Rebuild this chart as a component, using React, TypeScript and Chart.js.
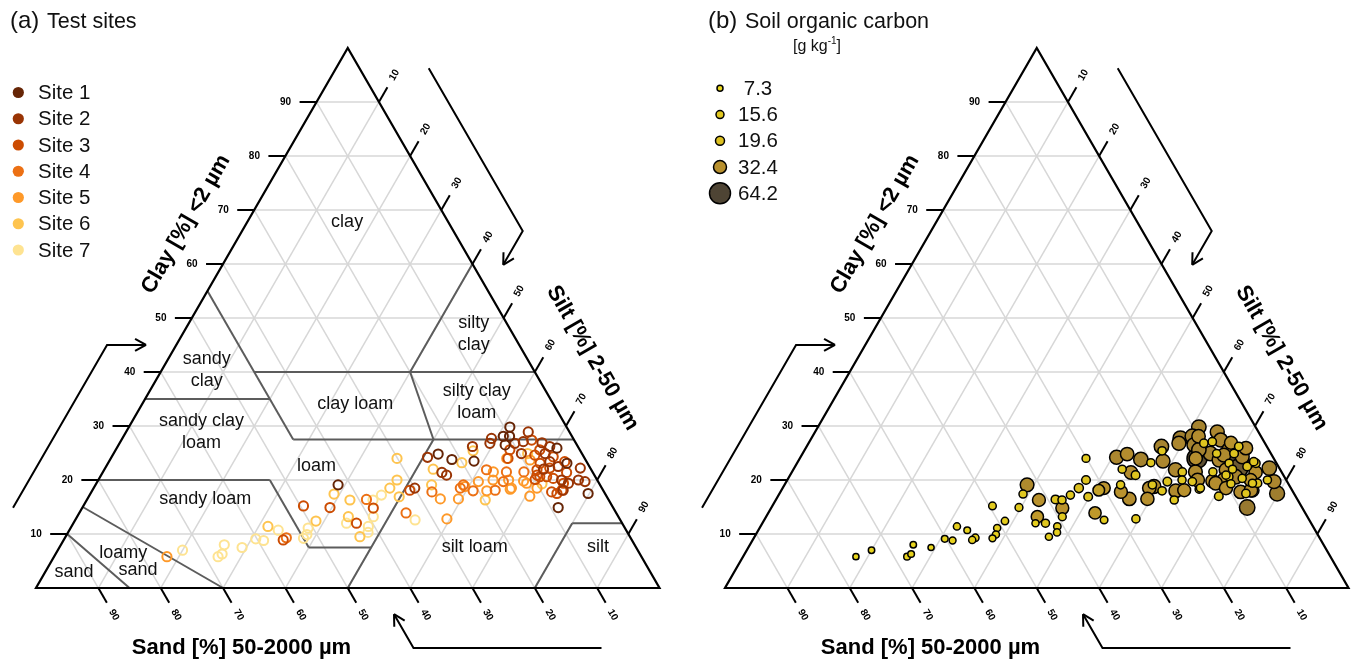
import React, { useEffect, useRef } from "react";
import { Chart, registerables } from "chart.js";

Chart.register(...registerables);

const FONT = "'Liberation Sans', Arial, Helvetica, sans-serif";

// ---------------- data ----------------
const SITE_LABELS = ["Site 1", "Site 2", "Site 3", "Site 4", "Site 5", "Site 6", "Site 7"];
const SITE_COLORS = ["#662506", "#993404", "#cc4c02", "#ec7014", "#fe9929", "#fec44f", "#fee391"];

// clay [%] (<2 µm) of every sample
const CLAY = [
  5.8, 7.0, 5.8, 6.3, 8.0, 7.5, 9.1, 8.8, 11.4, 10.7, 8.9, 9.3, 9.2, 11.1, 9.9, 12.4,
  15.2, 14.9, 19.1, 17.4, 16.3, 13.2, 12.0, 12.0, 9.5, 16.4, 14.8, 13.2, 11.4, 10.3, 18.5, 17.2,
  20.0, 24.0, 16.9, 13.9, 18.1, 18.5, 12.6, 24.2, 24.8, 22.0, 21.4, 20.9, 23.8, 23.2, 23.5, 26.2,
  25.4, 19.1, 17.8, 16.5, 12.8, 18.5, 18.8, 18.0, 16.5, 19.7, 16.3, 18.0, 18.1, 20.0, 21.9, 19.7,
  21.5, 18.3, 24.0, 19.8, 21.5, 17.0, 23.7, 24.9, 24.9, 24.6, 24.9, 24.3, 23.1, 23.4, 23.1, 21.9,
  22.0, 22.2, 22.5, 21.4, 22.2, 20.0, 19.7, 20.6, 20.1, 20.3, 20.0, 19.4, 19.3, 17.8, 17.5, 18.1,
  17.5, 14.9, 29.8, 28.9, 28.1, 28.1, 27.7, 27.1, 27.4, 26.9, 26.2, 25.9, 26.8, 26.5, 26.8, 24.0,
  25.6, 21.5, 19.4, 20.9, 20.6, 23.4, 18.1, 19.4, 18.5, 19.1, 20.0, 18.5, 25.6, 16.3,
];
// silt [%] (2-50 µm) of every sample
const SILT = [
  18.1, 20.0, 26.3, 26.7, 26.2, 29.3, 30.7, 32.1, 31.5, 33.5, 35.2, 35.5, 38.3, 38.1, 38.5, 38.7,
  35.3, 39.7, 38.9, 39.1, 42.2, 43.5, 43.8, 45.4, 47.2, 44.8, 46.7, 47.5, 47.6, 48.1, 47.5, 46.8,
  47.9, 45.9, 49.8, 52.4, 50.9, 51.5, 54.5, 50.7, 52.1, 52.7, 54.4, 55.4, 54.8, 56.7, 58.5, 56.9,
  57.4, 53.9, 54.6, 56.6, 59.5, 58.8, 59.4, 61.1, 59.5, 61.1, 63.9, 63.3, 64.6, 63.3, 61.3, 65.1,
  64.7, 66.9, 63.7, 68.3, 67.5, 70.7, 67.4, 65.4, 66.4, 67.7, 69.2, 70.8, 69.3, 70.7, 73.6, 69.4,
  70.4, 71.3, 72.5, 74.4, 76.2, 77.0, 78.2, 70.5, 70.0, 72.8, 74.3, 75.7, 71.5, 73.8, 74.8, 75.5,
  79.8, 76.3, 61.1, 64.5, 60.9, 61.9, 59.2, 64.6, 65.8, 67.7, 69.3, 70.6, 59.4, 62.0, 63.4, 63.5,
  68.0, 62.6, 69.0, 69.9, 71.6, 73.1, 75.3, 74.9, 71.1, 59.0, 65.8, 67.0, 63.2, 45.9,
];
// test site (1-7) of every sample
const SITE = [
  5, 7, 7, 7, 7, 7, 7, 7, 6, 7, 3, 4, 7, 7, 7, 6,
  3, 3, 1, 6, 6, 6, 7, 3, 6, 4, 3, 7, 7, 7, 6, 7,
  6, 6, 6, 4, 3, 2, 7, 2, 1, 6, 2, 2, 1, 6, 1, 2,
  6, 6, 4, 5, 5, 4, 5, 4, 5, 5, 6, 5, 4, 5, 4, 4,
  4, 5, 3, 5, 4, 5, 5, 2, 6, 3, 2, 3, 3, 2, 1, 3,
  2, 3, 2, 3, 2, 2, 2, 3, 3, 3, 2, 2, 6, 3, 3, 2,
  1, 1, 1, 2, 1, 1, 2, 2, 3, 2, 2, 1, 2, 1, 2, 5,
  3, 5, 5, 3, 3, 3, 3, 3, 5, 4, 5, 5, 3, 7,
];
// soil organic carbon [g kg-1] of every sample
const SOC = [
  8, 9, 10, 10, 9, 8, 10, 11, 12, 10, 12, 13, 11, 12, 12, 13,
  14, 15, 35, 16, 32, 30, 12, 16, 12, 18, 32, 15, 13, 12, 20, 16,
  18, 15, 18, 30, 28, 32, 14, 36, 34, 16, 34, 18, 38, 16, 36, 38,
  17, 16, 32, 34, 16, 34, 36, 17, 33, 18, 16, 35, 32, 16, 36, 17,
  35, 16, 60, 34, 16, 18, 36, 38, 16, 35, 18, 36, 16, 64, 17, 34,
  16, 55, 18, 33, 38, 16, 36, 17, 34, 16, 32, 18, 16, 34, 17, 35,
  40, 42, 38, 36, 38, 34, 40, 17, 36, 32, 17, 34, 36, 38, 17, 33,
  36, 17, 34, 16, 38, 17, 34, 16, 33, 17, 35, 16, 38, 16,
];
const SOC_LEGEND = [7.3, 15.6, 19.6, 32.4, 64.2];
const AXIS_TICKS = [10, 20, 30, 40, 50, 60, 70, 80, 90];

// USDA texture-class boundaries: [clay1, silt1, clay2, silt2]
const CLASS_LINES: number[][] = [
  [55, 0, 27.5, 27.5],
  [35, 0, 35, 20],
  [40, 15, 40, 60],
  [60, 40, 40, 40],
  [40, 40, 27.5, 50],
  [27.5, 27.5, 27.5, 72.5],
  [20, 0, 20, 27.5],
  [20, 27.5, 7.5, 40],
  [7.5, 40, 7.5, 50],
  [27.5, 50, 0, 50],
  [0, 80, 12, 80],
  [12, 80, 12, 88],
  [15, 0, 0, 30],
  [10, 0, 0, 15],
];
const CLASS_NAMES: { text: string[]; clay: number; silt: number }[] = [
  { text: ["clay"], clay: 67.8, silt: 16.0 },
  { text: ["silty", "clay"], clay: 47.0, silt: 46.7 },
  { text: ["sandy", "clay"], clay: 40.4, silt: 7.2 },
  { text: ["clay loam"], clay: 34.0, silt: 34.2 },
  { text: ["silty clay", "loam"], clay: 34.4, silt: 53.5 },
  { text: ["sandy clay", "loam"], clay: 28.9, silt: 12.1 },
  { text: ["loam"], clay: 22.6, silt: 33.7 },
  { text: ["sandy loam"], clay: 16.5, silt: 18.9 },
  { text: ["silt loam"], clay: 7.5, silt: 66.6 },
  { text: ["silt"], clay: 7.5, silt: 86.4 },
  { text: ["loamy"], clay: 6.4, silt: 10.8 },
  { text: ["sand"], clay: 3.3, silt: 14.7 },
  { text: ["sand"], clay: 3.0, silt: 4.6 },
];

// ---------------- styling helpers ----------------
const W = 678;
const H = 665;
const Y_RANGE = [-14.259, 108.889];
const X_RANGE_A = [-5.774, 102.967];
const X_RANGE_B = [-7.538, 101.203];

const SOC_COLOR_STOPS: [number, number[]][] = [
  [7.3, [234, 215, 28]],
  [19.6, [220, 192, 32]],
  [32.4, [184, 144, 46]],
  [64.2, [78, 68, 52]],
];
const SOC_RADIUS_STOPS: [number, number][] = [
  [7.3, 3],
  [15.6, 4],
  [19.6, 4.5],
  [32.4, 6.5],
  [64.2, 10.5],
];
function interp(v: number, stops: [number, any][]) {
  if (v <= stops[0][0]) return stops[0][1];
  for (let i = 1; i < stops.length; i++) {
    if (v <= stops[i][0]) {
      const t = (v - stops[i - 1][0]) / (stops[i][0] - stops[i - 1][0]);
      const a = stops[i - 1][1];
      const b = stops[i][1];
      if (Array.isArray(a)) return a.map((x: number, k: number) => x + (b[k] - x) * t);
      return a + (b - a) * t;
    }
  }
  return stops[stops.length - 1][1];
}
function socColor(v: number) {
  const c = interp(v, SOC_COLOR_STOPS) as number[];
  return `rgb(${Math.round(c[0])},${Math.round(c[1])},${Math.round(c[2])})`;
}
function socRadius(v: number) {
  return interp(v, SOC_RADIUS_STOPS) as number;
}

const font = (size: number, bold = false) => `${bold ? "bold " : ""}${size}px ${FONT}`;

type Pt = { x: number; y: number };
function tern(chart: any, clay: number, silt: number): Pt {
  return {
    x: chart.scales.x.getPixelForValue(silt + clay / 2),
    y: chart.scales.y.getPixelForValue(clay),
  };
}
function seg(ctx: CanvasRenderingContext2D, p: Pt, q: Pt) {
  ctx.beginPath();
  ctx.moveTo(p.x, p.y);
  ctx.lineTo(q.x, q.y);
  ctx.stroke();
}
const add = (p: Pt, d: Pt, k: number): Pt => ({ x: p.x + d.x * k, y: p.y + d.y * k });

function arrowPath(ctx: CanvasRenderingContext2D, pts: Pt[]) {
  ctx.beginPath();
  ctx.moveTo(pts[0].x, pts[0].y);
  for (let i = 1; i < pts.length; i++) ctx.lineTo(pts[i].x, pts[i].y);
  ctx.stroke();
  const t = pts[pts.length - 1];
  const s = pts[pts.length - 2];
  const ang = Math.atan2(t.y - s.y, t.x - s.x);
  for (const sg of [-1, 1]) {
    const a = ang + Math.PI + sg * 0.5;
    seg(ctx, t, { x: t.x + 12.5 * Math.cos(a), y: t.y + 12.5 * Math.sin(a) });
  }
}

function rotatedText(ctx: CanvasRenderingContext2D, text: string, p: Pt, rot: number) {
  ctx.save();
  ctx.translate(p.x, p.y);
  ctx.rotate(rot);
  ctx.fillText(text, 0, 0);
  ctx.restore();
}

function drawFrame(chart: any, withClasses: boolean) {
  const ctx: CanvasRenderingContext2D = chart.ctx;
  ctx.save();
  ctx.lineCap = "butt";
  // grid
  ctx.strokeStyle = "#d7d7d7";
  ctx.lineWidth = 1.5;
  for (const v of AXIS_TICKS) {
    seg(ctx, tern(chart, v, 0), tern(chart, v, 100 - v));
    seg(ctx, tern(chart, 0, v), tern(chart, 100 - v, v));
    seg(ctx, tern(chart, 0, 100 - v), tern(chart, 100 - v, 0));
  }
  // texture classes
  if (withClasses) {
    ctx.strokeStyle = "#5c5c5c";
    ctx.lineWidth = 2;
    for (const l of CLASS_LINES) seg(ctx, tern(chart, l[0], l[1]), tern(chart, l[2], l[3]));
    ctx.fillStyle = "#111";
    ctx.font = font(18);
    ctx.textAlign = "center";
    ctx.textBaseline = "middle";
    for (const c of CLASS_NAMES) {
      const p = tern(chart, c.clay, c.silt);
      const n = c.text.length;
      c.text.forEach((t, i) => ctx.fillText(t, p.x, p.y + (i - (n - 1) / 2) * 22));
    }
  }
  // triangle
  const A = tern(chart, 0, 0);
  const B = tern(chart, 0, 100);
  const C = tern(chart, 100, 0);
  ctx.strokeStyle = "#000";
  ctx.lineWidth = 2.2;
  ctx.lineJoin = "miter";
  ctx.beginPath();
  ctx.moveTo(A.x, A.y);
  ctx.lineTo(B.x, B.y);
  ctx.lineTo(C.x, C.y);
  ctx.closePath();
  ctx.stroke();

  const L = B.x - A.x;
  const u = { x: (C.x - A.x) / L, y: (C.y - A.y) / L };
  const v = { x: (B.x - C.x) / L, y: (B.y - C.y) / L };
  const w = { x: (A.x - B.x) / L, y: (A.y - B.y) / L };
  const nu = { x: u.y, y: -u.x };
  const nv = { x: v.y, y: -v.x };
  const nw = { x: w.y, y: -w.x };
  const left = { x: -1, y: 0 };

  // ticks + labels
  ctx.lineWidth = 2;
  ctx.fillStyle = "#000";
  ctx.font = font(10, true);
  ctx.textAlign = "center";
  ctx.textBaseline = "middle";
  for (const t of AXIS_TICKS) {
    const pc = tern(chart, t, 0);
    seg(ctx, pc, add(pc, left, 17));
    ctx.fillText(String(t), pc.x - 31, pc.y + 0.5);
    const ps = tern(chart, 100 - t, t);
    seg(ctx, ps, add(ps, u, 17));
    rotatedText(ctx, String(t), add(ps, u, 31), -Math.PI / 3);
    const pd = tern(chart, 0, 100 - t);
    seg(ctx, pd, add(pd, v, 17));
    rotatedText(ctx, String(t), add(pd, v, 31), Math.PI / 3);
  }

  // axis titles
  ctx.font = font(22, true);
  rotatedText(ctx, "Clay [%] <2 µm", add(add(A, u, 390), nu, 52), -Math.PI / 3);
  rotatedText(ctx, "Silt [%] 2-50 µm", add(add(C, v, 391), nv, 57), Math.PI / 3);
  rotatedText(ctx, "Sand [%] 50-2000 µm", add(add(B, w, 418), nw, 60), 0);

  // direction arrows
  ctx.lineWidth = 2;
  ctx.lineJoin = "miter";
  const arrows: [Pt, Pt, Pt, Pt][] = [
    [A, u, nu, { x: -w.x, y: -w.y }],
    [C, v, nv, { x: -u.x, y: -u.y }],
    [B, w, nw, { x: -v.x, y: -v.y }],
  ];
  for (const [S, d, nn, fd] of arrows) {
    const p0 = add(add(S, d, 58), nn, 60);
    const p1 = add(add(S, d, 246), nn, 60);
    const p2 = add(p1, fd, 39);
    arrowPath(ctx, [p0, p1, p2]);
  }
  ctx.restore();
}

function drawLegendA(chart: any) {
  const ctx: CanvasRenderingContext2D = chart.ctx;
  ctx.save();
  ctx.fillStyle = "#111";
  ctx.textBaseline = "alphabetic";
  ctx.textAlign = "left";
  ctx.font = font(24);
  ctx.fillText("(a)", 10, 28);
  ctx.font = font(21.5);
  ctx.fillText("Test sites", 47, 28);
  ctx.font = font(20.5);
  ctx.textBaseline = "middle";
  SITE_LABELS.forEach((lab, i) => {
    const y = 92.5 + i * 26.25;
    ctx.fillStyle = SITE_COLORS[i];
    ctx.beginPath();
    ctx.arc(18.3, y, 5.6, 0, Math.PI * 2);
    ctx.fill();
    ctx.fillStyle = "#111";
    ctx.fillText(lab, 38, y + 1);
  });
  ctx.restore();
}

function drawLegendB(chart: any) {
  const ctx: CanvasRenderingContext2D = chart.ctx;
  ctx.save();
  ctx.fillStyle = "#111";
  ctx.textBaseline = "alphabetic";
  ctx.textAlign = "left";
  ctx.font = font(24);
  ctx.fillText("(b)", 30, 28);
  ctx.font = font(21.5);
  ctx.fillText("Soil organic carbon", 67, 28);
  ctx.font = font(16);
  let x = 115;
  ctx.fillText("[g kg", x, 51);
  x += ctx.measureText("[g kg").width;
  ctx.font = font(10);
  ctx.fillText("-1", x, 44);
  x += ctx.measureText("-1").width;
  ctx.font = font(16);
  ctx.fillText("]", x, 51);
  ctx.font = font(20.5);
  ctx.textBaseline = "middle";
  ctx.textAlign = "center";
  SOC_LEGEND.forEach((val, i) => {
    const y = 88.3 + i * 26.25;
    ctx.fillStyle = socColor(val);
    ctx.strokeStyle = "#000";
    ctx.lineWidth = 1.5;
    ctx.beginPath();
    ctx.arc(42, y, socRadius(val), 0, Math.PI * 2);
    ctx.fill();
    ctx.stroke();
    ctx.fillStyle = "#111";
    ctx.fillText(String(val), 80, y + 1);
  });
  ctx.restore();
}

function baseOptions(xr: number[]) {
  return {
    responsive: false,
    maintainAspectRatio: false,
    animation: false as const,
    events: [] as any[],
    layout: { padding: 0, autoPadding: false },
    plugins: { legend: { display: false }, tooltip: { enabled: false }, title: { display: false } },
    scales: {
      x: { type: "linear" as const, min: xr[0], max: xr[1], display: false, bounds: "data" as const },
      y: { type: "linear" as const, min: Y_RANGE[0], max: Y_RANGE[1], display: false, bounds: "data" as const },
    },
  };
}

export default function App() {
  const refA = useRef<HTMLCanvasElement>(null);
  const refB = useRef<HTMLCanvasElement>(null);

  useEffect(() => {
    const idx = CLAY.map((_, i) => i);
    const dsA = SITE_LABELS.map((lab, s) => ({
      label: lab,
      data: idx.filter((i) => SITE[i] === s + 1).map((i) => ({ x: SILT[i] + CLAY[i] / 2, y: CLAY[i] })),
      borderColor: SITE_COLORS[s],
      backgroundColor: "rgba(0,0,0,0)",
      pointRadius: 4.6,
      pointHoverRadius: 4.6,
      borderWidth: 2,
      pointBorderWidth: 2,
    }));
    const order = idx.slice().sort((a, b) => SOC[b] - SOC[a]);
    const dsB = [
      {
        label: "SOC",
        data: order.map((i) => ({ x: SILT[i] + CLAY[i] / 2, y: CLAY[i] })),
        pointRadius: order.map((i) => socRadius(SOC[i])),
        pointHoverRadius: order.map((i) => socRadius(SOC[i])),
        pointBackgroundColor: order.map((i) => socColor(SOC[i])),
        pointBorderColor: "#000",
        pointBorderWidth: 1.5,
        borderWidth: 1.5,
      },
    ];
    const chartA = new Chart(refA.current as HTMLCanvasElement, {
      type: "scatter",
      data: { datasets: dsA as any },
      options: baseOptions(X_RANGE_A) as any,
      plugins: [
        {
          id: "ternaryA",
          beforeDatasetsDraw: (c: any) => drawFrame(c, true),
          afterDraw: (c: any) => drawLegendA(c),
        },
      ],
    });
    const chartB = new Chart(refB.current as HTMLCanvasElement, {
      type: "scatter",
      data: { datasets: dsB as any },
      options: baseOptions(X_RANGE_B) as any,
      plugins: [
        {
          id: "ternaryB",
          beforeDatasetsDraw: (c: any) => drawFrame(c, false),
          afterDraw: (c: any) => drawLegendB(c),
        },
      ],
    });
    return () => {
      chartA.destroy();
      chartB.destroy();
    };
  }, []);

  return (
    <div style={{ position: "absolute", left: 0, top: 0, width: W * 2, height: H, background: "#fff", overflow: "hidden" }}>
      <canvas ref={refA} width={W} height={H} style={{ position: "absolute", left: 0, top: 0, width: W, height: H }} />
      <canvas ref={refB} width={W} height={H} style={{ position: "absolute", left: W, top: 0, width: W, height: H }} />
    </div>
  );
}
